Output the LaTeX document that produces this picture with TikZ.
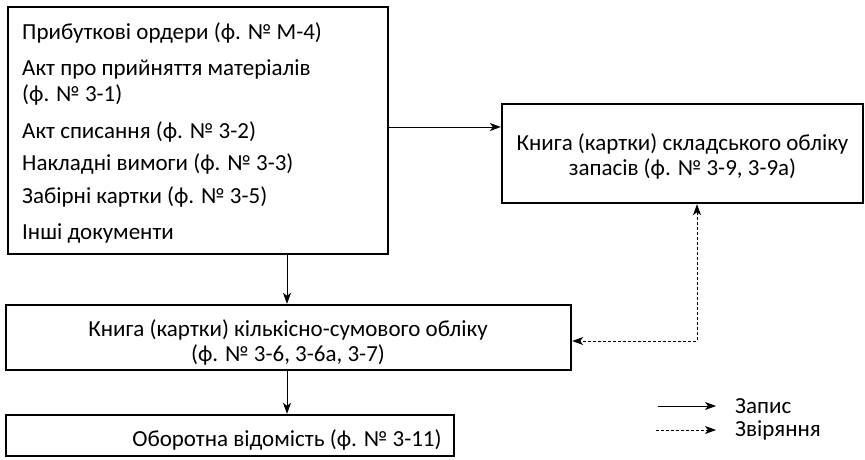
\documentclass[tikz,border=0pt]{standalone}
\usepackage{fontspec}
\setmainfont{Carlito}
\usetikzlibrary{arrows.meta}
\begin{document}
\begin{tikzpicture}[x=1pt,y=-1pt,
  box/.style={draw,line width=2.4pt,inner sep=0pt},
  txt/.style={inner sep=0pt,font=\fontsize{23}{26}\selectfont},
  line/.style={txt,anchor=base west},
  flow/.style={line width=0.9pt,-{Stealth[length=11pt,width=8pt,inset=3pt]}},
  dashes/.style={line width=0.9pt,dash pattern=on 3pt off 2pt},
  check/.style={dashes,{Stealth[length=11pt,width=8pt,inset=3pt]}-{Stealth[length=11pt,width=8pt,inset=3pt]}}]
\useasboundingbox (0,0) rectangle (865,460);

% source documents
\node[box,minimum width=380,minimum height=247] (src) at (198,130.5) {};
\node[line] (s1) at (22,40)  {Прибуткові ордери (ф. № М-4)};
\node[line] (s2) at (22,75)  {Акт про прийняття матеріалів};
\node[line] (s3) at (22,102) {(ф. № 3-1)};
\node[line] (s4) at (22,138) {Акт списання (ф. № 3-2)};
\node[line] (s5) at (22,170) {Накладні вимоги (ф. № 3-3)};
\node[line] (s6) at (22,203) {Забірні картки (ф. № 3-5)};
\node[line] (s7) at (22,239) {Інші документи};

% warehouse book
\node[box,minimum width=361,minimum height=99] (stock) at (682.5,153.5) {};
\node[txt,anchor=base] (stock1) at (682.5,150) {Книга (картки) складського обліку};
\node[txt,anchor=base] (stock2) at (682.5,175) {запасів (ф. № 3-9, 3-9а)};

% quantity-sum book
\node[box,minimum width=565,minimum height=65] (qty) at (288.5,337.5) {};
\node[txt,anchor=base] (qty1) at (288,336.5) {Книга (картки) кількісно-сумового обліку};
\node[txt,anchor=base] (qty2) at (288,361.5) {(ф. № 3-6, 3-6а, 3-7)};

% turnover sheet
\node[box,minimum width=448,minimum height=41] (turn) at (230,435.5) {};
\node[txt,anchor=base] (turn1) at (287,446) {Оборотна відомість (ф. № 3-11)};

% connectors
\coordinate (srcout) at (src.east |- 0,127);
\draw[flow] (srcout) -- (srcout -| stock.west);
\coordinate (down1) at (287,0);
\draw[flow] (down1 |- src.south) -- (down1 |- qty.north);
\draw[flow] (down1 |- qty.south) -- (down1 |- turn.north);
\coordinate (bend) at (697,341);
\draw[check] (bend |- stock.south) -- (bend) -- (bend -| qty.east);

% legend
\coordinate (l1a) at (658,406);
\coordinate (l1b) at (716,406);
\coordinate (l2a) at (656,430);
\coordinate (l2b) at (716,430);
\draw[flow] (l1a) -- (l1b);
\draw[dashes,-{Stealth[length=11pt,width=8pt,inset=3pt]}] (l2a) -- (l2b);
\node[txt,anchor=west] (lab1) at (735,406) {Запис};
\node[txt,anchor=west] (lab2) at (735,430) {Звіряння};
\end{tikzpicture}
\end{document}
